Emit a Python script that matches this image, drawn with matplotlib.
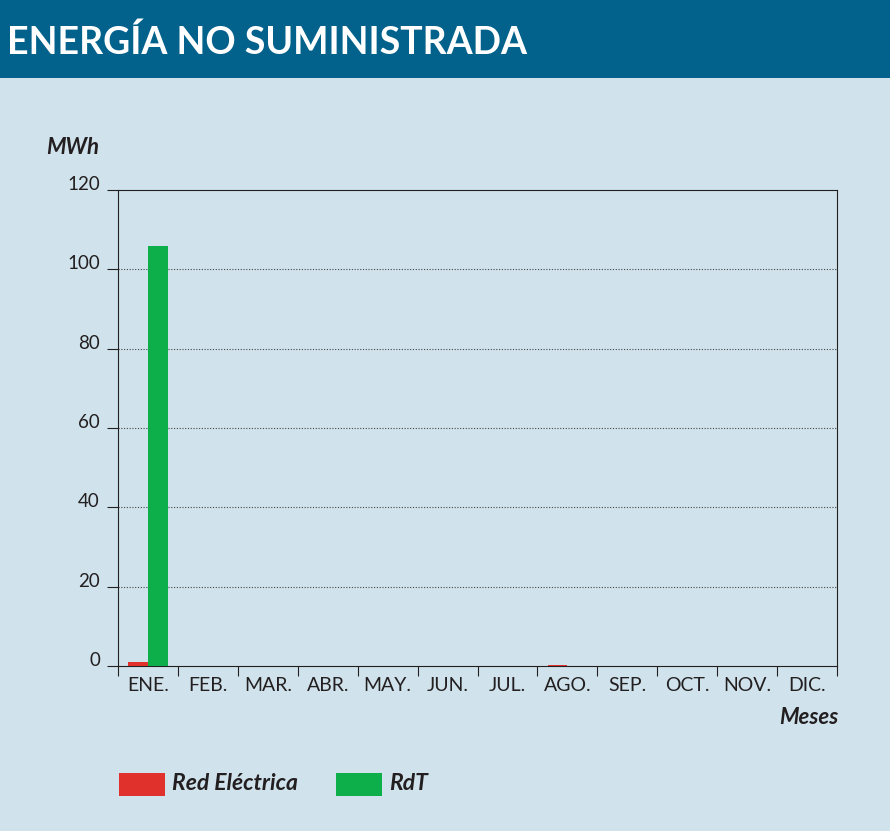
import numpy as np
import matplotlib.pyplot as plt
from matplotlib.patches import Rectangle

plt.rcParams['font.family'] = ['Lato', 'DejaVu Sans']

meses = ["ENE.", "FEB.", "MAR.", "ABR.", "MAY.", "JUN.", "JUL.", "AGO.", "SEP.", "OCT.", "NOV.", "DIC."]
red_electrica = [1.0, 0, 0, 0, 0, 0, 0, 0.3, 0, 0, 0, 0]
rdt = [106, 0, 0, 0, 0, 0, 0, 0, 0, 0, 0, 0]
y_ticks = [0, 20, 40, 60, 80, 100, 120]

bg = "#d0e3ec"
header = "#02628b"
c_red = "#e0312d"
c_green = "#0daf4b"
dark = "#231f20"

W, H = 890, 831
fig = plt.figure(figsize=(W / 100, H / 100), dpi=100, facecolor=bg)

# header band
fig.patches.append(Rectangle((0, 1 - 78 / H), 1, 78 / H, transform=fig.transFigure,
                             facecolor=header, edgecolor="none", zorder=0))
fig.text(7 / W, 1 - 42 / H, "ENERGÍA NO SUMINISTRADA", color="white", fontsize=27,
         fontweight="bold", va="center", ha="left")

ax = fig.add_axes([118 / W, 1 - 666 / H, (837 - 118) / W, (666 - 190) / H])
ax.set_facecolor(bg)

x = np.arange(len(meses))
ax.bar(x - 0.165, red_electrica, width=0.33, color=c_red, zorder=3)
ax.bar(x + 0.165, rdt, width=0.33, color=c_green, zorder=3)

ax.set_xlim(-0.5, 11.5)
ax.set_ylim(0, 120)
ax.set_yticks(y_ticks)
ax.set_yticklabels([str(v) for v in y_ticks], fontsize=13.5, color=dark)
for lab in ax.get_yticklabels():
    lab.set_verticalalignment("baseline")
ax.tick_params(axis="y", direction="out", length=8, width=0.8, color=dark, pad=5)
for v in y_ticks[1:-1]:
    ax.axhline(v, color="#444444", lw=0.8, ls=(0, (1, 1.5)), zorder=1)

# month boundaries as ticks, labels in the middle
ax.set_xticks(np.arange(-0.5, 12, 1))
ax.set_xticklabels([])
ax.tick_params(axis="x", direction="out", length=7, width=0.8, color=dark)
for i, m in enumerate(meses):
    ax.text(i, -4.9, m, ha="center", va="center", fontsize=14, color=dark)

for s in ax.spines.values():
    s.set_color(dark)
    s.set_linewidth(0.8)

fig.text(46 / W, 1 - 147 / H, "MWh", fontsize=16, fontweight="bold", style="italic",
         color=dark, va="center", ha="left")
fig.text(838 / W, 1 - 717 / H, "Meses", fontsize=16, fontweight="bold", style="italic",
         color=dark, va="center", ha="right")

# legend
fig.patches.append(Rectangle((119 / W, 1 - 796 / H), 46 / W, 23 / H, transform=fig.transFigure,
                             facecolor=c_red, edgecolor="none"))
fig.text(172 / W, 1 - 784 / H, "Red Eléctrica", fontsize=16.5, fontweight="bold", style="italic",
         color=dark, va="center", ha="left")
fig.patches.append(Rectangle((336 / W, 1 - 796 / H), 46 / W, 23 / H, transform=fig.transFigure,
                             facecolor=c_green, edgecolor="none"))
fig.text(389 / W, 1 - 784 / H, "RdT", fontsize=16.5, fontweight="bold", style="italic",
         color=dark, va="center", ha="left")

fig.savefig("out.png", dpi=100, facecolor=bg)
